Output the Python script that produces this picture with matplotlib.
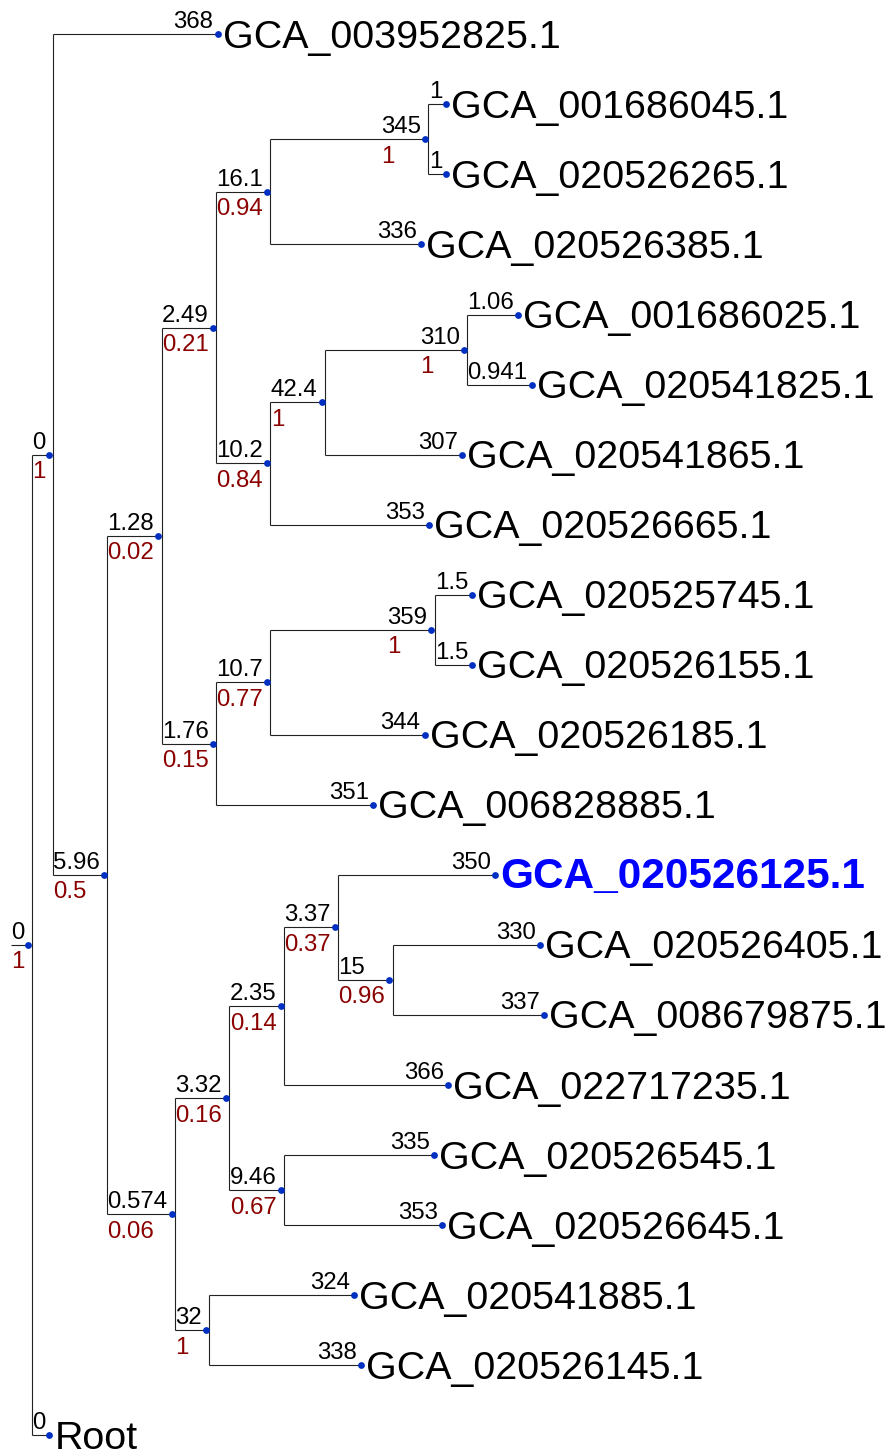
import matplotlib
matplotlib.use('Agg')
import matplotlib.pyplot as plt
from matplotlib.font_manager import FontProperties
from collections import defaultdict

plt.rcParams['font.family'] = ['Liberation Sans', 'DejaVu Sans']

# tree in preorder: node name ('' for internal), parent index, branch length, support
names = ['', '', 'GCA_003952825.1', '', '', '', '', '',
         'GCA_001686045.1', 'GCA_020526265.1', 'GCA_020526385.1', '', '', '',
         'GCA_001686025.1', 'GCA_020541825.1', 'GCA_020541865.1', 'GCA_020526665.1',
         '', '', '', 'GCA_020525745.1', 'GCA_020526155.1', 'GCA_020526185.1',
         'GCA_006828885.1', '', '', '', '', 'GCA_020526125.1', '',
         'GCA_020526405.1', 'GCA_008679875.1', 'GCA_022717235.1', '',
         'GCA_020526545.1', 'GCA_020526645.1', '', 'GCA_020541885.1',
         'GCA_020526145.1', 'Root']
parents = [-1, 0, 1, 1, 3, 4, 5, 6, 7, 7, 6, 5, 11, 12, 13, 13, 12, 11,
           4, 18, 19, 20, 20, 19, 18, 3, 25, 26, 27, 28, 28, 30, 30, 27,
           26, 34, 34, 25, 37, 37, 0]
lengths = [0, 0, 368, 5.96, 1.28, 2.49, 16.1, 345, 1, 1, 336, 10.2, 42.4, 310,
           1.06, 0.941, 307, 353, 1.76, 10.7, 359, 1.5, 1.5, 344, 351, 0.574,
           3.32, 2.35, 3.37, 350, 15, 330, 337, 366, 9.46, 335, 353, 32, 324,
           338, 0]
supports = [1, 1, None, 0.5, 0.02, 0.21, 0.94, 1, None, None, None, 0.84, 1, 1,
            None, None, None, None, 0.15, 0.77, 1, None, None, None, None, 0.06,
            0.16, 0.14, 0.37, None, 0.96, None, None, None, 0.67, None, None, 1,
            None, None, None]
highlight = 'GCA_020526125.1'

SCALE = 0.448        # px per unit branch length
Y0, DY = 34.3, 70.05  # first leaf row, row spacing
X0 = 10.5
VOFF = 3.3           # vertical line sits just right of the node dot
MARGIN = 4.4         # extra room a branch keeps around its labels

children = defaultdict(list)
for i, p in enumerate(parents):
    if p >= 0:
        children[p].append(i)

fig = plt.figure(figsize=(8.88, 14.5), dpi=100)
ax = fig.add_axes([0, 0, 1, 1])
ax.set_xlim(0, 888)
ax.set_ylim(1450, 0)
ax.axis('off')

renderer = fig.canvas.get_renderer()
small = FontProperties(family='Liberation Sans', size=17.3)


def fmt(v):
    return None if v is None else '%.3g' % v


def tw(s):
    if s is None:
        return 0
    return renderer.get_text_width_height_descent(s, small, ismath=False)[0]


n = len(names)
xs, ys, starts = [0.0] * n, [0.0] * n, [0.0] * n
leaf_row = [0]


def place(i, x_start):
    block = max(tw(fmt(lengths[i])), tw(fmt(supports[i])))
    starts[i] = x_start
    xs[i] = x_start + max(lengths[i] * SCALE, block + MARGIN)
    if children[i]:
        for c in children[i]:
            place(c, xs[i] + VOFF)
        ys[i] = (ys[children[i][0]] + ys[children[i][-1]]) / 2
    else:
        ys[i] = Y0 + leaf_row[0] * DY
        leaf_row[0] += 1


place(0, X0)

line_kw = dict(color='#222222', lw=0.8, solid_capstyle='butt')
for i in range(n):
    ax.plot([starts[i], xs[i]], [ys[i], ys[i]], **line_kw)
    if children[i]:
        kids = children[i]
        ax.plot([xs[i] + VOFF] * 2, [ys[kids[0]], ys[kids[-1]]], **line_kw)

ax.scatter(xs, ys, s=24, color='#0030c1', zorder=3, linewidths=0)

for i in range(n):
    bl_txt, sup_txt = fmt(lengths[i]), fmt(supports[i])
    lx = xs[i] - max(tw(bl_txt), tw(sup_txt)) - 4.0
    ax.text(lx, ys[i] - 6, bl_txt, fontproperties=small, color='black',
            ha='left', va='baseline')
    if sup_txt is not None:
        ax.text(lx, ys[i] + 23.5, sup_txt, fontproperties=small, color='#8b0000',
                ha='left', va='baseline')
    if not children[i]:
        hl = names[i] == highlight
        ax.text(xs[i] + 5, ys[i] + 13.5, names[i],
                fontsize=30.5 if hl else 28.4,
                color='#0000ff' if hl else 'black',
                fontweight='bold' if hl else 'normal',
                ha='left', va='baseline')

fig.savefig('out.png', dpi=100)
